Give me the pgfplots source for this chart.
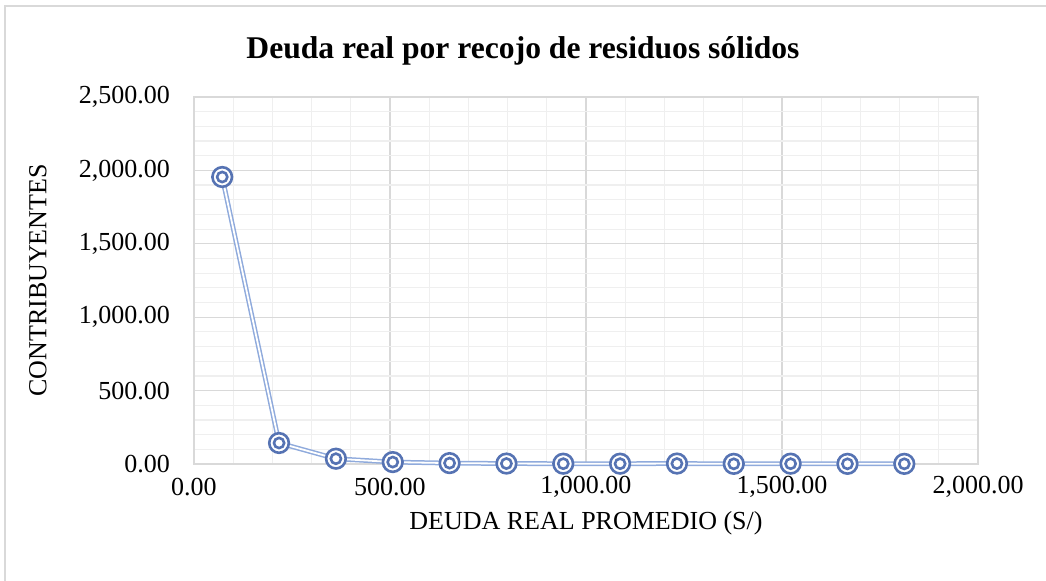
\documentclass[border=0pt]{standalone}
\usepackage{pgfplots}
\usepackage{pgfplotstable}
\pgfplotsset{compat=1.18}
\usepackage{fontspec}
\setmainfont{Liberation Serif}

\definecolor{lineblue}{HTML}{8FAADC}
\definecolor{markblue}{HTML}{5673B3}
\definecolor{majgrid}{HTML}{D9D9D9}
\definecolor{mingrid}{HTML}{EFEFEF}

\pgfdeclareplotmark{dcirc}{%
  \pgfpathcircle{\pgfpointorigin}{\pgfplotmarksize}\pgfusepathqfillstroke
  \pgfpathcircle{\pgfpointorigin}{0.52\pgfplotmarksize}\pgfusepathqstroke}

\pgfplotstableread{
x y
72 1955
217 143
362 36
507 13
652 6
797 3
942 2
1087 2
1232 3
1377 1
1522 2
1667 1
1812 1
}\deuda

\begin{document}
\begin{tikzpicture}
\useasboundingbox (0,0) rectangle (523pt,290.5pt);
\draw[majgrid, line width=0.8pt] (2.5pt,-1pt) -- (2.5pt,287.5pt) -- (524pt,287.5pt);
\begin{axis}[
  at={(97pt,58.5pt)}, anchor=south west,
  width=392pt, height=183.5pt, scale only axis,
  xmin=0, xmax=2000, ymin=0, ymax=2500,
  xtick={0,500,...,2000}, ytick={0,500,...,2500},
  minor x tick num=4, minor y tick num=4,
  grid=both,
  major grid style={majgrid, line width=0.6pt},
  minor grid style={mingrid, line width=0.6pt},
  axis line style={majgrid, line width=0.6pt},
  major tick length=0pt, minor tick length=0pt,
  tick label style={font=\fontsize{13}{15}\selectfont},
  /pgf/number format/.cd, fixed, fixed zerofill, precision=2, 1000 sep={,}, assume math mode=true,
  /pgfplots/.cd,
  scaled ticks=false,
  xticklabel style={anchor=center, yshift=-11.5pt},
  yticklabel style={anchor=east, xshift=-8.5pt},
  xlabel={DEUDA REAL PROMEDIO (S/)},
  ylabel={CONTRIBUYENTES},
  label style={font=\fontsize{13}{15}\selectfont},
  xlabel style={at={(axis description cs:0.5,0)}, anchor=center, yshift=-29.5pt},
  ylabel style={at={(axis description cs:0,0.5)}, anchor=center, yshift=78pt},
  clip=false,
]
\addplot[lineblue, line width=2.4pt, no markers] table[x=x, y=y] {\deuda};
\addplot[white, line width=0.9pt, no markers] table[x=x, y=y] {\deuda};
\addplot[only marks, mark=dcirc, mark size=4.9pt,
  mark options={draw=markblue, fill=white, line width=1.3pt}] table[x=x, y=y] {\deuda};
\end{axis}
\node[font=\fontsize{15.8}{18}\selectfont\bfseries] at (261.5pt,265pt) {Deuda real por recojo de residuos sólidos};
\end{tikzpicture}
\end{document}
